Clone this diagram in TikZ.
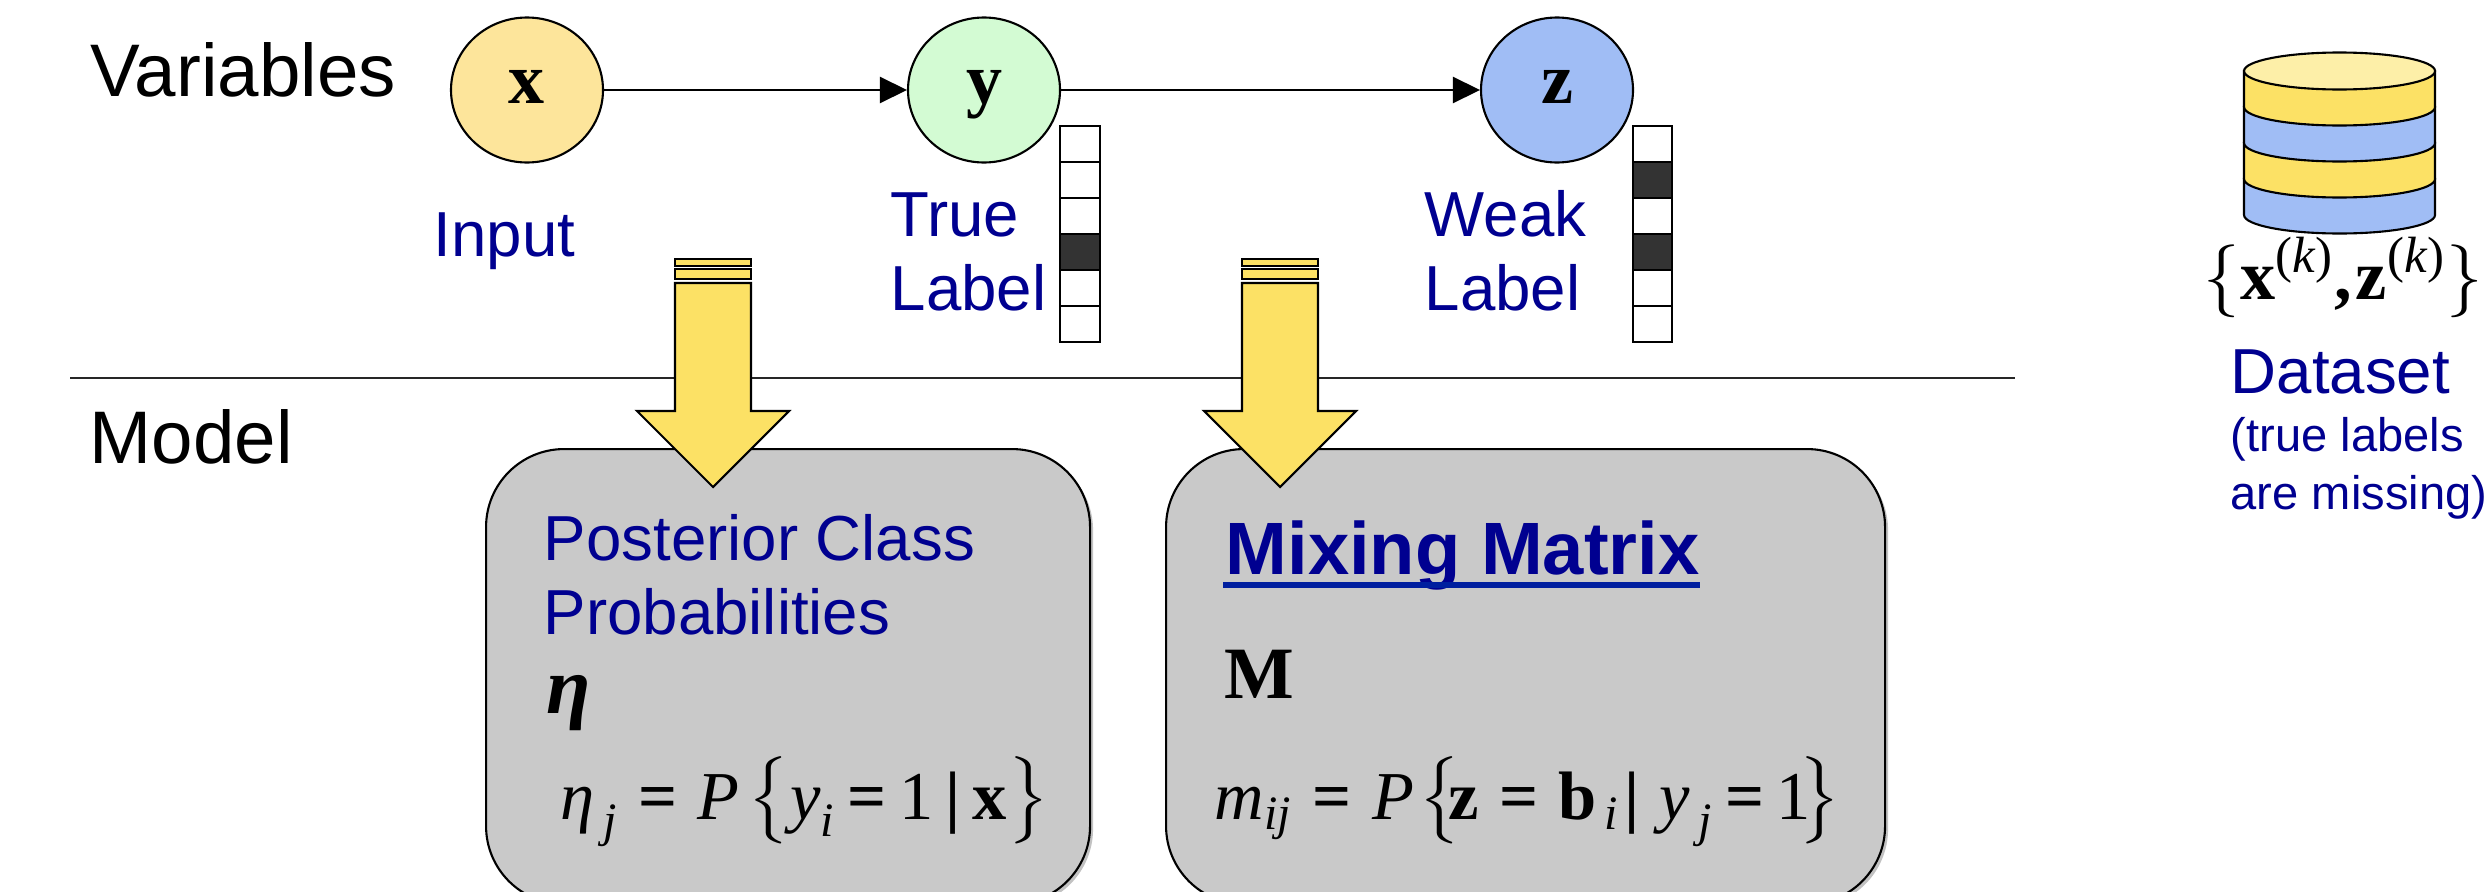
\documentclass[tikz,border=0pt]{standalone}
\usepackage{amsmath}
\usepackage{exscale}
\usepackage{fontspec}
\setmainfont{Liberation Sans}
\newfontfamily\timesfont{Liberation Serif}
\usetikzlibrary{
    arrows.meta,
    shapes.geometric,
    shadows
}
\definecolor{navytext}{HTML}{000090}
\definecolor{linkblue}{HTML}{001F9F}
\definecolor{inputfill}{HTML}{FDE59B}
\definecolor{truefill}{HTML}{D3FBD3}
\definecolor{weakfill}{HTML}{A0BDF5}
\definecolor{arrowfill}{HTML}{FCE165}
\definecolor{capfill}{HTML}{FDEFA8}
\definecolor{boxfill}{HTML}{C9C9C9}
\definecolor{cellfill}{HTML}{333333}
\newcommand{\vit}[1]{\text{\timesfont\itshape #1}}
\newcommand{\vbf}[1]{\text{\timesfont\bfseries #1}}
\newcommand{\vrm}[1]{\text{\timesfont #1}}
\newcommand{\veq}{\mkern3mu\vbf{=}\mkern3mu}
\newcommand{\vexp}{\text{\fontsize{14.5}{18}\selectfont\timesfont(\itshape k\/\upshape)}}
\newcommand{\tallbr}[1]{\text{\fontsize{22}{26}\selectfont$#1$}}
\tikzset{
    basetext/.style={anchor=base west,inner sep=0pt},
    headtext/.style={basetext,font=\fontsize{21.2}{25}\selectfont},
    bluetext/.style={basetext,text=navytext,font=\fontsize{18.1}{22}\selectfont},
    smalltext/.style={basetext,text=navytext,font=\fontsize{13.4}{16}\selectfont},
    mathtext/.style={basetext,font=\fontsize{21}{25}\selectfont},
    eqtext/.style={basetext,font=\fontsize{19.5}{24}\selectfont},
    varnode/.style={ellipse,draw,line width=0.6pt,minimum width=1.52cm,minimum height=1.45cm,
        inner sep=0pt,text height=0.26cm,text depth=0pt,font=\fontsize{20.5}{25}\selectfont\timesfont\bfseries},
    flow/.style={line width=0.7pt,-{Triangle[length=0.27cm,width=0.26cm]}},
    modelbox/.style={draw,line width=0.6pt,fill=boxfill,rounded corners=0.78cm,anchor=north west,
        minimum height=4.55cm,drop shadow={shadow xshift=0.03cm,shadow yshift=-0.03cm,opacity=0.4,fill=black!60}},
    blockarrow/.style={draw,line width=0.6pt,fill=arrowfill}
}

\begin{document}
\begin{tikzpicture}

\clip (0,0) rectangle (24.86,8.91);

% Row titles
\node[headtext] (vartitle) at (0.90,7.95) {Variables};
\node[headtext] (modeltitle) at (0.89,4.28) {Model};

% Separator
\coordinate (sepleft) at (0.70,5.13);
\coordinate (sepright) at (20.15,5.13);
\draw[line width=0.7pt,black!85] (sepleft) -- (sepright);

% Variables
\node[varnode,fill=inputfill] (inputvar) at (5.27,8.01) {x};
\node[varnode,fill=truefill] (truevar) at (9.84,8.01) {y};
\node[varnode,fill=weakfill] (weakvar) at (15.57,8.01) {z};
\draw[flow] (inputvar) -- (truevar);
\draw[flow] (truevar) -- (weakvar);

% Variable labels
\node[bluetext] (inputlabel) at (4.33,6.35) {Input};
\node[bluetext] (truelabel) at (8.90,6.55) {True};
\node[bluetext] (truelabelb) at (8.90,5.81) {Label};
\node[bluetext] (weaklabel) at (14.24,6.55) {Weak};
\node[bluetext] (weaklabelb) at (14.24,5.81) {Label};

% Label vectors
\foreach \row/\col in {0/white,1/white,2/white,3/cellfill,4/white,5/white}
    \draw[line width=0.6pt,fill=\col] (10.60,7.65-\row*0.36) rectangle (11.00,7.29-\row*0.36);
\foreach \row/\col in {0/white,1/cellfill,2/white,3/cellfill,4/white,5/white}
    \draw[line width=0.6pt,fill=\col] (16.33,7.65-\row*0.36) rectangle (16.72,7.29-\row*0.36);

% Model boxes
\node[modelbox,minimum width=6.04cm] (postbox) at (4.85,4.43) {};
\node[modelbox,minimum width=7.19cm] (mixbox) at (11.65,4.43) {};

% Block arrows
\foreach \ax in {7.13,12.80} {
    \draw[blockarrow] (\ax-0.38,6.25) rectangle (\ax+0.38,6.32);
    \draw[blockarrow] (\ax-0.38,6.12) rectangle (\ax+0.38,6.22);
    \draw[blockarrow] (\ax-0.38,6.08) -- (\ax-0.38,4.80) -- (\ax-0.76,4.80) -- (\ax,4.04)
        -- (\ax+0.76,4.80) -- (\ax+0.38,4.80) -- (\ax+0.38,6.08) -- cycle;
}

% Posterior box text
\node[bluetext] (posttitle) at (5.43,3.31) {Posterior Class};
\node[bluetext] (posttitleb) at (5.43,2.57) {Probabilities};
\node[basetext,font=\fontsize{23}{27}\selectfont] (etasym) at (5.46,1.78) {\timesfont\bfseries\itshape η};
\node[eqtext] (etaeq) at (5.60,0.72) {$\vit{η}_{\,\vit{j}}\;\vbf{=}\;\vit{P}\mkern2mu\bigl\{\vit{y}_{\vit{i}}\veq\vrm{1}\,\vbf{|}\,\vbf{x}\bigr\}$};

% Mixing box text
\node[basetext,text=navytext,font=\fontsize{21.1}{25}\selectfont\bfseries] (mixtitle) at (12.25,3.17) {Mixing Matrix};
\coordinate (underleft) at (12.23,3.06);
\coordinate (underright) at (17.00,3.06);
\draw[line width=0.06cm,linkblue] (underleft) -- (underright);
\node[mathtext] (mixsym) at (12.24,1.93) {\timesfont\bfseries M};
\node[eqtext] (mixeq) at (12.14,0.72) {$\vit{m}_{\vit{ij}}\;\vbf{=}\;\vit{P}\mkern1mu\tallbr{\bigl\{}\!\vbf{z}\;\vbf{=}\;\vbf{b}_{\,\vit{i}}\mkern1mu\vbf{|}\;\vit{y}_{\,\vit{j}}\veq\vrm{1}\!\tallbr{\bigr\}}$};

% Dataset cylinder
\foreach \yb/\col in {6.76/weakfill,7.12/arrowfill,7.48/weakfill,7.84/arrowfill}
    \draw[line width=0.6pt,fill=\col] (22.44,\yb+0.36) -- (22.44,\yb) arc (180:360:0.955 and 0.185) -- (24.35,\yb+0.36) -- cycle;
\draw[line width=0.6pt,fill=capfill] (23.395,8.20) ellipse (0.955 and 0.185);

% Dataset text
\node[basetext,font=\fontsize{20}{24}\selectfont] (dataeq) at (22.03,5.92) {$\{\vbf{x}^{\vexp}\vbf{,}\mkern1mu\vbf{z}^{\vexp}\}$};
\node[bluetext] (datatitle) at (22.30,4.98) {Dataset};
\node[smalltext] (datanote) at (22.30,4.40) {(true labels};
\node[smalltext] (datanoteb) at (22.30,3.82) {are missing)};

\end{tikzpicture}
\end{document}
